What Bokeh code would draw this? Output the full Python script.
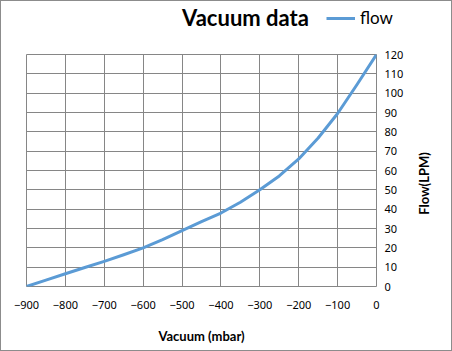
import math
from bokeh.plotting import figure
from bokeh.layouts import column, row
from bokeh.models import Range1d, LinearAxis, FixedTicker, Label, Legend
from bokeh.embed import file_html
from bokeh.resources import INLINE

vacuum = [-900, -850, -800, -750, -700, -650, -600, -550, -500, -450, -400,
          -350, -300, -250, -200, -150, -100, -50, 0]
flow = [0, 3.3, 6.6, 9.8, 13, 16.4, 20, 24.3, 28.9, 33.5, 38,
        43.6, 50, 57.2, 66, 76.8, 89.5, 104.5, 120]
x_ticks = [-900, -800, -700, -600, -500, -400, -300, -200, -100, 0]
x_tick_labels = ["−900", "−800", "−700", "−600", "−500", "−400", "−300", "−200", "−100", "0"]
y_ticks = [0, 10, 20, 30, 40, 50, 60, 70, 80, 90, 100, 110, 120]

title_text = "Vacuum data"
series_name = "flow"
x_title = "Vacuum (mbar)"
y_title = "Flow(LPM)"

GRID = "#868686"
BLUE = "#5B9BD5"


def bare(fig):
    fig.background_fill_color = "white"
    fig.border_fill_color = "white"
    fig.outline_line_color = None
    fig.xgrid.visible = False
    fig.ygrid.visible = False


# ---------- header: title + legend ----------
top = figure(width=450, height=45, output_backend="svg", toolbar_location=None,
             x_range=Range1d(-900, 0), y_range=Range1d(1000, 2000),
             min_border=0, x_axis_location=None, y_axis_location=None)
bare(top)
r_leg = top.line(vacuum, flow, line_color=BLUE, line_width=3)
top.add_layout(Label(x=244, y=29, x_units="screen", y_units="screen", text=title_text,
                     text_font="Lato", text_font_style="bold", text_font_size="22px",
                     text_align="center", text_baseline="middle", text_color="#000000"))
legend = Legend(items=[(series_name, [r_leg])], location=(325, 18),
                label_text_font="Lato", label_text_font_size="17px",
                label_text_color="#000000",
                border_line_color=None, background_fill_alpha=0,
                glyph_width=29, glyph_height=20, label_standoff=5,
                padding=0, margin=0, spacing=0)
top.add_layout(legend, "center")

# ---------- main chart ----------
y_range = Range1d(0, 120)
p = figure(width=405, height=304, output_backend="svg", toolbar_location=None,
           x_range=Range1d(-900, 0), y_range=y_range,
           min_border_left=25, min_border_right=30, min_border_top=8, min_border_bottom=64,
           x_axis_location="below", y_axis_location=None)
p.background_fill_color = "white"
p.border_fill_color = "white"
p.outline_line_color = GRID

p.line(vacuum, flow, line_color=BLUE, line_width=3, line_join="round", line_cap="round")

yax = LinearAxis(ticker=FixedTicker(ticks=y_ticks))
p.add_layout(yax, "right")

xax = p.xaxis[0]
xax.ticker = FixedTicker(ticks=x_ticks)
xax.major_label_overrides = {t: l for t, l in zip(x_ticks, x_tick_labels)}
xax.axis_label = x_title

for ax in (xax, yax):
    ax.axis_line_color = None
    ax.major_tick_line_color = None
    ax.minor_tick_line_color = None
    ax.major_tick_out = 0
    ax.major_tick_in = 0
    ax.minor_tick_out = 0
    ax.minor_tick_in = 0
    ax.major_label_text_font = "Noto Sans"
    ax.major_label_text_font_size = "11px"
    ax.major_label_text_color = "#000000"
    ax.axis_label_text_font = "Lato"
    ax.axis_label_text_font_style = "bold"
    ax.axis_label_text_font_size = "13px"
    ax.axis_label_text_color = "#000000"

xax.major_label_standoff = 14
xax.axis_label_standoff = 16
yax.major_label_standoff = 8

p.xgrid.ticker = FixedTicker(ticks=x_ticks)
p.ygrid.ticker = FixedTicker(ticks=y_ticks)
p.xgrid.grid_line_color = GRID
p.ygrid.grid_line_color = GRID

# ---------- right strip: y-axis title reading bottom-to-top ----------
side = figure(width=45, height=304, output_backend="svg", toolbar_location=None,
              x_range=Range1d(0, 45), y_range=y_range,
              min_border_left=0, min_border_right=0, min_border_top=8, min_border_bottom=64,
              x_axis_location=None, y_axis_location=None)
bare(side)
side.add_layout(Label(x=17, y=53.3, text=y_title,
                      angle=math.pi / 2, text_font="Lato", text_font_style="bold",
                      text_font_size="13px", text_align="center", text_baseline="middle",
                      text_color="#000000"))

layout = column(top, row(p, side, spacing=0), spacing=0,
                styles={"border": "1px solid #8c8c8c", "background-color": "white"})

open("out.html", "w").write(file_html(layout, INLINE))
